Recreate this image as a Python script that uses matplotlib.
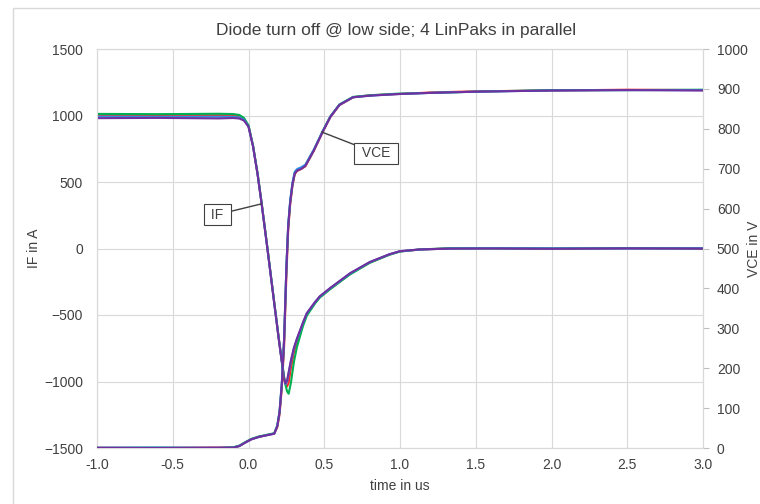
import matplotlib
matplotlib.use('Agg')
import matplotlib.pyplot as plt
from matplotlib.patches import Rectangle

plt.rcParams['font.family'] = ['Liberation Sans', 'DejaVu Sans']

title = "Diode turn off @ low side; 4 LinPaks in parallel"
x_label = "time in us"
left_label = "IF in A"
right_label = "VCE in V"

trace_colors = ["#ff2a2a", "#00b050", "#2e8fe0", "#7030a0"]

# IF traces (left axis), time in us
t_if = [-1.0, -0.6, -0.2, -0.1, -0.06, -0.03, 0.0, 0.03, 0.06, 0.087, 0.125, 0.17, 0.2,
        0.22, 0.235, 0.245, 0.255, 0.265, 0.28, 0.3, 0.32, 0.34, 0.36, 0.385, 0.44, 0.47,
        0.54, 0.67, 0.8, 0.93, 1.0, 1.13, 1.33, 1.6, 2.0, 2.5, 3.0]
if_red = [1002, 998, 1003, 1000, 994, 975, 922, 772, 562, 338, 2, -408, -678, -848, -975,
          -1020, -1037, -1010, -900, -780, -700, -635, -565, -493, -407, -366, -302, -192,
          -106, -46, -22, -8, 1, 3, -1, 2, 1]
if_green = [1012, 1010, 1013, 1011, 1004, 982, 926, 774, 564, 340, 4, -405, -675, -845, -965,
            -1030, -1075, -1092, -1010, -850, -740, -660, -582, -505, -412, -370, -305, -195,
            -108, -47, -23, -7, 2, 1, 0, 3, 0]
if_blue = [992, 990, 991, 990, 985, 968, 918, 768, 558, 334, -2, -412, -682, -852, -980,
           -1022, -1000, -940, -850, -750, -680, -620, -558, -488, -403, -362, -298, -188,
           -103, -44, -21, -8, 0, 2, 1, 0, 2]
if_purple = [980, 982, 978, 981, 977, 962, 915, 766, 556, 332, -4, -414, -684, -854, -985,
             -1015, -990, -930, -840, -745, -676, -616, -555, -486, -401, -360, -296, -186,
             -102, -43, -20, -7, -1, 0, -2, 1, -1]

# VCE traces (right axis)
t_vce = [-1.0, -0.6, -0.2, -0.1, -0.06, -0.02, 0.02, 0.07, 0.12, 0.17, 0.19, 0.205, 0.22,
         0.235, 0.25, 0.262, 0.275, 0.29, 0.305, 0.32, 0.35, 0.375, 0.43, 0.49, 0.54, 0.6,
         0.69, 0.8, 0.98, 1.2, 1.5, 2.0, 2.5, 3.0]
vce_red = [1, 0, 1, 1, 5, 14, 22, 28, 32, 36, 52, 84, 150, 255, 430, 545, 610, 657, 686, 694,
           700, 706, 744, 792, 829, 859, 879, 884, 887, 891, 894, 896, 898, 897]
vce_green = [0, 1, 0, 2, 6, 15, 23, 29, 33, 37, 56, 90, 160, 270, 450, 556, 616, 661, 689, 696,
             702, 708, 746, 794, 831, 861, 880, 884, 888, 890, 893, 897, 897, 898]
vce_blue = [1, 1, 0, 1, 5, 14, 22, 28, 32, 36, 56, 92, 165, 275, 455, 560, 620, 665, 692, 699,
            704, 710, 747, 794, 830, 860, 879, 883, 887, 890, 893, 896, 897, 897]
vce_purple = [0, 0, 1, 1, 5, 14, 22, 28, 32, 36, 55, 90, 160, 270, 450, 555, 615, 660, 688, 695,
              700, 707, 745, 793, 830, 860, 879, 883, 887, 890, 893, 896, 897, 896]

x_ticks = [-1.0, -0.5, 0.0, 0.5, 1.0, 1.5, 2.0, 2.5, 3.0]
x_tick_labels = ["-1.0", "-0.5", "0.0", "0.5", "1.0", "1.5", "2.0", "2.5", "3.0"]
if_ticks = [-1500, -1000, -500, 0, 500, 1000, 1500]
vce_ticks = [0, 100, 200, 300, 400, 500, 600, 700, 800, 900, 1000]

# annotation anchors (data coords)
if_label_pos = (-0.205, 255)
if_label_target = (0.087, 336)
vce_label_pos = (0.842, 739)
vce_label_target = (0.483, 792)

text_color = "#404040"
grid_color = "#d9d9d9"

W, H = 760, 504
fig = plt.figure(figsize=(W / 100, H / 100), dpi=100)
fig.patches.append(Rectangle((13 / W, -0.5), 2, (H - 8) / H + 0.5, transform=fig.transFigure,
                             fill=False, ec=grid_color, lw=1))

ax = fig.add_axes([97 / W, 56 / H, 606 / W, 399 / H])
ax2 = ax.twinx()

for tr, c in zip([if_red, if_green, if_blue, if_purple], trace_colors):
    ax.plot(t_if, tr, color=c, lw=1.5, solid_joinstyle='round', zorder=3)
for tr, c in zip([vce_red, vce_green, vce_blue, vce_purple], trace_colors):
    ax2.plot(t_vce, tr, color=c, lw=1.5, solid_joinstyle='round', zorder=3)

ax.set_xlim(-1.0, 3.0)
ax.set_ylim(-1500, 1500)
ax2.set_ylim(0, 1000)
ax.set_xticks(x_ticks)
ax.set_xticklabels(x_tick_labels)
ax.set_yticks(if_ticks)
ax2.set_yticks(vce_ticks)

ax.grid(True, color=grid_color, lw=0.8, zorder=0)
ax.set_axisbelow(True)
for a in (ax, ax2):
    for s in a.spines.values():
        s.set_color(grid_color)
        s.set_linewidth(0.8)

ax.tick_params(axis='x', length=0, pad=7, labelsize=10, labelcolor=text_color)
ax.tick_params(axis='y', length=0, pad=10, labelsize=10, labelcolor=text_color)
ax2.tick_params(axis='y', length=4, width=0.8, color='#bfbfbf', pad=6, labelsize=10,
                labelcolor=text_color)

ax.set_xlabel(x_label, fontsize=10, color=text_color, labelpad=5)
ax.set_ylabel(left_label, fontsize=10, color=text_color, labelpad=2)
ax2.set_ylabel(right_label, fontsize=10, color=text_color)
ax2.yaxis.set_label_coords((747 - 97) / 606, 0.5)

ax.set_title(title, fontsize=12.5, color=text_color, pad=10, x=0.493)

box = dict(boxstyle='square,pad=0.25', fc='white', ec='#404040', lw=0.8)
arrow = dict(arrowstyle='-', color='#404040', lw=1, shrinkA=0, shrinkB=0)
ax.annotate(" IF ", xy=if_label_target, xytext=if_label_pos, ha='center', va='center',
            fontsize=10, color=text_color, bbox=box, arrowprops=arrow, zorder=5)
ax2.annotate(" VCE ", xy=vce_label_target, xytext=vce_label_pos, ha='center', va='center',
             fontsize=10, color=text_color, bbox=box, arrowprops=arrow, zorder=5)

fig.savefig("out.png", dpi=100)
